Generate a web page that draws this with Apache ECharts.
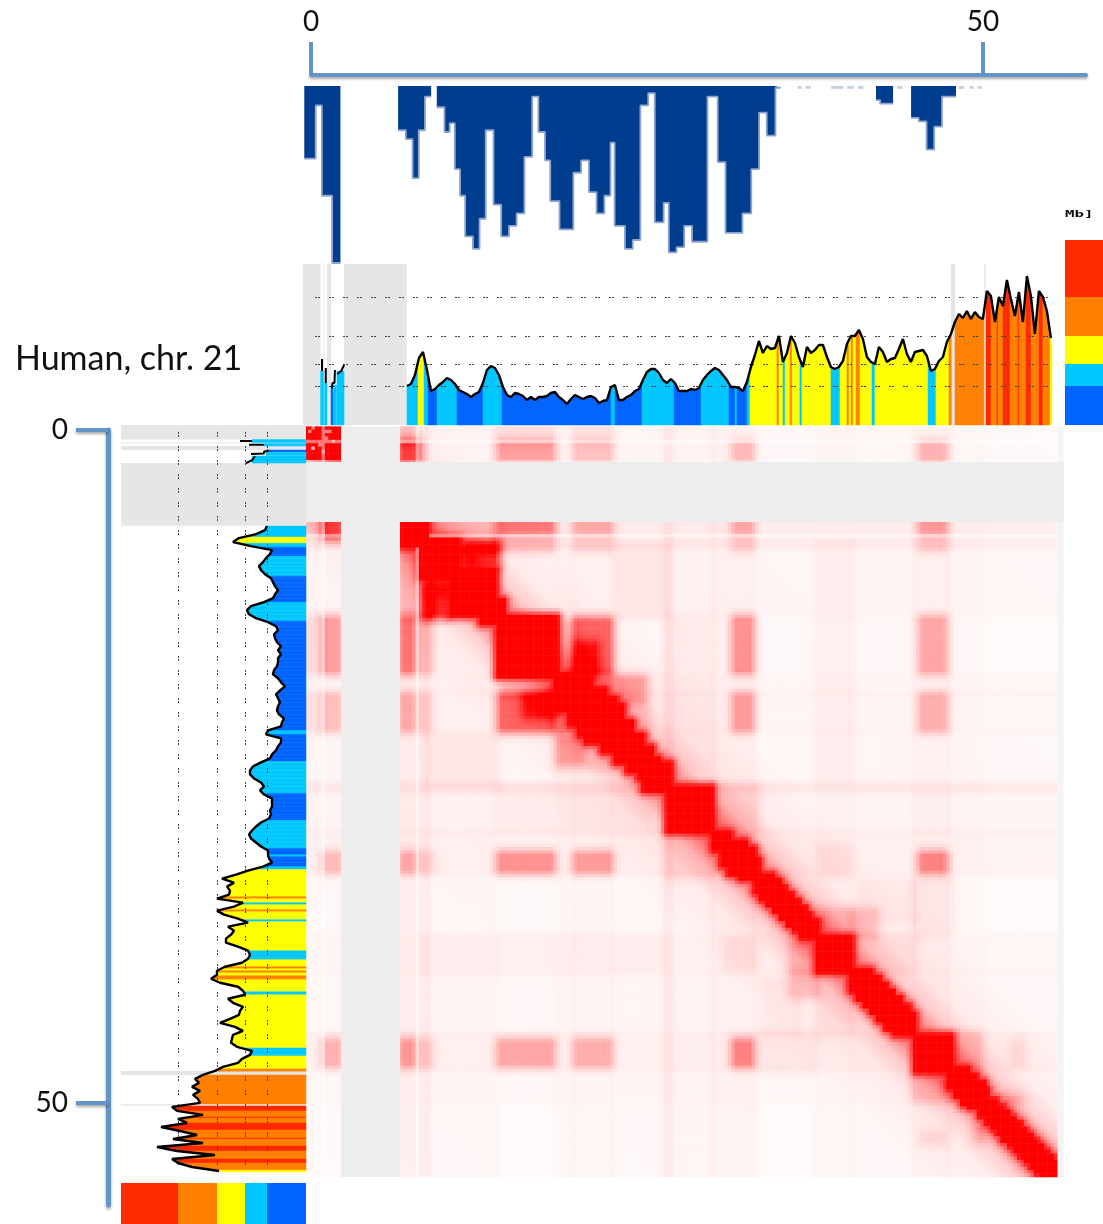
<!DOCTYPE html>
<html><head><meta charset="utf-8">
<style>html,body{margin:0;padding:0;background:#fff}#c{width:1103px;height:1224px}</style>
<script src="https://cdn.jsdelivr.net/npm/echarts@6/dist/echarts.min.js"></script>
</head><body><div id="c"></div>
<script>
// ---------- labels ----------
const chromosomeLabel = 'Human, chr. 21';
const unitLabel = 'Mb]';
const mbTicks = [0, 50];

// ---------- top blue track (start of each step in Mb, depth in %) ----------
const mappabilityStarts = [-0.5,0.35,0.81,1.57,2.19,6.48,7.06,7.56,8.02,8.48,8.94,9.36,9.93,10.32,10.7,11.09,11.47,12.05,12.54,13.0,13.58,14.15,14.73,15.3,15.88,16.46,16.92,17.41,17.8,18.49,19.52,20.1,20.68,21.25,21.83,22.29,22.59,23.36,23.94,24.51,25.09,25.58,26.24,26.62,27.2,27.77,28.35,29.5,30.26,30.84,32.1,32.76,33.34,33.91,34.56,34.94,42.04,42.35,43.31,44.65,45.22,45.8,46.37,46.95,47.99];
const mappabilityDepth  = [41,11,62,100,0,25,30,52,25,6,0,12,26,21,47,62,85,92,75,25,67,85,79,72,40,6,26,42,65,81,49,42,60,72,62,32,79,92,87,11,4,77,66,94,91,79,88,6,43,83,72,47,15,28,1,0,8,10,0,18,20,36,23,6,0];
const mappabilityFaintSpans = [[36.2,36.5],[36.8,37.2],[38.7,39.6],[39.9,40.4],[40.7,41.1],[43.6,44.0],[48.2,48.6],[49.0,49.3],[49.6,49.9]];

// ---------- profile shared by the top and left tracks ----------
const trackStartMb = 7.14;
const trackStepMb = 0.2976;
const trackValues = [
 39,41,50,67,73,55,34,36,40,43,47,45,41,35,33,31,28,31,33,42,55,59,57,50,38,30,28,32,31,29,25,28,25,28,28,29,32,33,28,25,21,26,30,28,26,28,29,27,22,24,25,38,40,25,
 25,28,30,34,36,45,53,56,56,52,45,42,46,42,34,34,34,36,35,37,45,50,54,57,55,50,45,38,38,37,34,43,58,70,84,72,79,76,77,89,63,72,89,82,68,58,78,72,75,80,80,68,58,56,58,
 64,81,89,89,95,86,68,63,61,78,73,63,66,67,76,86,71,63,73,74,75,69,54,56,64,68,83,91,103,111,107,114,106,113,108,106,134,129,103,128,119,145,126,109,133,103,149,129,91,134,128,114,87];
const compartmentEdges = [7.14,7.96,8.41,8.71,9.38,10.86,12.8,14.21,22.32,22.62,24.63,27.01,29.02,31.1,31.55,31.7,32.44,32.66,34.67,34.82,35.12,35.27,35.64,35.79,36.38,36.53,38.69,39.36,39.88,40.03,40.18,40.33,40.55,40.85,41.74,41.96,45.91,46.5,47.47,47.62,47.92,50.07,50.22,50.6,51.04,51.12,51.49,52.01,52.6,52.68,53.2,53.57,54.17,54.46,54.99,55.13];
const compartmentClass = [1,2,1,0,1,0,1,0,1,0,1,0,1,0,1,0,1,2,3,2,1,2,3,2,1,2,1,2,3,2,3,2,3,2,1,2,1,2,3,-1,3,-1,4,3,4,3,4,3,4,3,4,3,4,3,2];
const legendBreaks = [0,39,61,89,128,185];
const legendColors = ['#0064ff','#00c8ff','#ffff00','#ff8000','#ff2a00'];
const dashedLevels = [39,61,89,128];

// ---------- short pieces on the p arm ----------
const pArmSpans = [[0.71,0.93],[1.0,1.19],[1.49,1.66],[1.66,1.9],[1.93,2.46]];
const pArmHeights = [54,42,37,40,54];
const pArmClasses = [1,1,0,1,1];
const pArmLine = [[0.82,54],[0.82,66],null,[1.1,42],[1.1,57],null,[1.55,37],[1.6,42],[1.75,42],[1.78,55],null,[1.95,51],[2.25,54],[2.46,60]];

// ---------- grey unmapped regions ----------
const unmappedTrackSpan = [-1,7.12];
const clearedTrackSpans = [[0.71,0.93],[1.0,1.19],[1.49,2.46]];
const trackSeparators = [[47.62,47.92,'#e4e4e4'],[50.07,50.22,'#ececec']];
const matrixGreyColumn = [2.23,6.62];
const matrixGreyRow = [2.38,6.83];

// ---------- contact map, in Mb ----------
const diagonalDomains = [[6.62,8.71],[8.11,11.09],[10.34,13.84],[12.57,14.43],[13.84,18.38],
 [18.15,20.9],[19.2,22.0],[19.9,22.8],
 [20.4,23.3],[21.6,24.0],[22.6,24.8],[23.5,25.5],[24.3,26.0],[24.7,26.86],[26.49,29.91],
 [29.9,31.3],[30.5,32.5],[31.0,33.1],[31.8,33.4],
 [33.0,34.5],[33.4,35.0],[33.9,35.4],[34.4,35.9],[34.9,36.4],[35.4,36.9],[35.9,37.3],[36.4,37.8],
 [37.65,40.33],
 [40.1,41.8],[40.6,42.4],[41.1,42.9],[41.6,43.4],[42.1,44.0],[42.7,44.6],[43.3,45.0],
 [44.94,47.77],
 [47.4,49.0],[47.9,49.6],[48.4,50.2],[48.9,50.4],
 [49.7,51.1],[50.2,51.6],[50.6,52.0],[51.0,52.4],[51.4,52.9],[51.9,53.3],[52.3,53.7],[52.7,54.1],[53.1,54.5],[53.5,54.9],[53.9,55.3],[54.3,55.7]];
// [x from, x to, y from, y to, strength]; each block is mirrored across the diagonal
const contactBlocks = [
 [-0.35,0.9,-0.35,0.9,0.85],[1.0,2.2,-0.35,0.9,0.85],[1.0,2.2,1.0,2.2,1.0],
 [19.8,22.2,14.2,18,0.55],[19.8,21.2,16,18,0.3],[18.5,19.5,14.4,17.8,0.12],
 [6.8,7.9,1.1,2.1,0.65],[14.1,17.9,1.1,2.1,0.34],[19.8,22.2,1.1,2.1,0.2],[31.6,32.7,1.1,2.1,0.22],[45.5,47.1,1.1,2.1,0.25],
 [6.8,7.5,-0.3,0.8,0.18],[14.1,17.9,-0.3,0.8,0.1],[19.8,22.2,-0.3,0.8,0.07],
 [14.1,17.9,6.8,7.5,0.46],[19.8,22.2,6.8,7.5,0.26],[31.6,32.7,6.8,7.5,0.26],[45.5,47.1,6.8,7.5,0.32],[8.9,13.6,6.8,7.5,0.18],
 [14.1,17.9,8.3,8.8,0.2],[19.8,22.2,8.3,8.8,0.13],[31.6,32.7,8.3,8.8,0.13],[45.5,47.1,8.3,8.8,0.15],
 [31.6,32.7,14.1,17.9,0.38],[45.5,47.1,14.1,17.9,0.3],
 [31.6,32.7,19.8,22.2,0.33],[45.5,47.1,19.8,22.2,0.26],
 [45.5,47.1,31.6,32.7,0.42],
 [11.2,13.7,9,9.9,0.3],[8.5,10.2,11.8,13.8,0.35],[8.8,13.8,8.3,8.9,0.35],
 [21.1,22.3,18.6,19.7,0.3],[18.4,23.8,22.9,25,0.12],[23.1,24.6,18.6,20.1,0.2],
 [41,44.8,33.6,36.4,0.05],
 [45.5,47.1,52.3,52.9,0.08],[51.9,52.7,49.6,49.9,0.15],[45,47.5,48.2,49.7,0.15],
 [22.8,26.4,8.7,13.8,0.05],[26.6,29.7,14,25,0.035],[37.8,40.2,8.5,26,0.025],[38,40,31,33,0.06],[26.6,29.8,30.2,33.1,0.09],
 [35.8,37.6,38.2,40.1,0.15],[40.4,42,35.8,37.6,0.15],[41,44.8,37.8,40.2,0.06],[33.5,37.4,44.9,47.5,0.05]];
// [from, to, strength]: pale stripes that run through the map in both directions
const contactStripes = [[-0.45,2.23,0.012],[6.62,8.7,0.05],[8.7,13.8,0.018],[13.84,18.15,0.006],[18.3,19.6,0.018],[19.6,22.4,0.018],[22.4,26.5,0.012],[26.3,26.9,0.04],[26.5,29.9,0.02],[29.9,33,0.03],[33,37.6,0.004],[37.6,40.3,0.016],[40.3,44.9,0.01],[44.9,47.5,0.03],[47.5,50,0.012],[50,55.6,0.003]];
// [distance from the diagonal in Mb, intensity]
const distanceStops = [[0,0.6],[1.5,0.4],[3,0.17],[5,0.06],[10,0.018],[56,0.01]];
const quietRows = [[7.85,8.1],[0.85,1.02]];
const pArmPinholes = [[-0.07,0.22],[0.07,1.34],[1.26,0.22],[1.19,0.74],[1.64,0.89]];

// ---------- contact map assembly ----------
const cellMb = 0.25, matrixX0 = -0.45, matrixY0 = -0.25, nX = 224, nY = 223;
const falloff = (d, soft) => d <= 0 ? 1 : Math.pow(Math.max(0, 1 - d / soft), 2);
const box = (x, y, a0, a1, b0, b1, soft) =>
  falloff(Math.max(a0 - x, x - a1), soft) * falloff(Math.max(b0 - y, y - b1), soft);
const decay = d => {
  for (let i = 1; i < distanceStops.length; i++) {
    const [d0, v0] = distanceStops[i - 1], [d1, v1] = distanceStops[i];
    if (d <= d1) return v0 + (v1 - v0) * (d - d0) / (d1 - d0);
  }
  return 0;
};
const stripeAt = m => contactStripes.reduce((s, [a, b, k]) => s + k * falloff(Math.max(a - m, m - b), 0.5), 0);
function contact(x, y) {
  let v = decay(Math.abs(x - y)) + stripeAt(x) + stripeAt(y);
  for (const [a0, a1, b0, b1, s] of contactBlocks) {
    const soft = Math.max(a0, b0) < 2.3 && Math.max(a1, b1) < 2.3 ? 0.2 : 1.1;
    v += s * box(x, y, a0, a1, b0, b1, soft);
    if (a0 !== b0) v += s * box(y, x, a0, a1, b0, b1, soft);
  }
  let core = 0;
  for (const [a, b] of diagonalDomains) core = Math.max(core, box(x, y, a, b, a, b, 0.8));
  v = 1 - (1 - Math.min(v, 1)) * (1 - core);
  for (const [a, b] of quietRows) if (core < 0.9 && ((y >= a && y <= b) || (x >= a && x <= b))) v *= 0.55;
  for (const [a, b] of pArmPinholes) {
    if ((Math.abs(x - a) < 0.125 && Math.abs(y - b) < 0.125) || (Math.abs(x - b) < 0.125 && Math.abs(y - a) < 0.125)) v *= 0.5;
  }
  return v;
}
const xBins = Array.from({length: nX}, (_, i) => matrixX0 + cellMb * (i + 0.5));
const yBins = Array.from({length: nY}, (_, j) => matrixY0 + cellMb * (j + 0.5));
const heatData = [];
xBins.forEach((x, i) => yBins.forEach((y, j) => {
  if (x >= matrixGreyColumn[0] && x <= matrixGreyColumn[1]) return;
  if (y >= matrixGreyRow[0] && y <= matrixGreyRow[1]) return;
  heatData.push([i, j, +contact(x, y).toFixed(3)]);
}));

// ---------- track assembly ----------
const trackPoints = trackValues.map((v, i) => [trackStartMb + trackStepMb * i, v]);
const valueAt = m => {
  const f = (m - trackStartMb) / trackStepMb, i = Math.max(0, Math.min(trackValues.length - 2, Math.floor(f)));
  return trackValues[i] + (trackValues[i + 1] - trackValues[i]) * (f - i);
};
const fillPieces = [];
compartmentClass.forEach((c, k) => {
  if (c < 0) return;
  const a = compartmentEdges[k], b = compartmentEdges[k + 1];
  const cuts = [a, ...trackPoints.map(p => p[0]).filter(m => m > a && m < b), b];
  for (let i = 0; i < cuts.length - 1; i++) fillPieces.push([cuts[i], cuts[i + 1], valueAt(cuts[i]), valueAt(cuts[i + 1]), c]);
});
pArmSpans.forEach((s, i) => fillPieces.push([s[0], s[1], pArmHeights[i], pArmHeights[i], pArmClasses[i]]));

const fillRender = horizontal => (params, api) => {
  const a = api.value(0), b = api.value(1), va = api.value(2), vb = api.value(3), col = legendColors[api.value(4)];
  const pts = horizontal ? [[a,0],[b,0],[b,vb],[a,va]] : [[0,a],[0,b],[vb,b],[va,a]];
  return {type: 'polygon', shape: {points: pts.map(p => api.coord(p))}, style: {fill: col, stroke: col, lineWidth: 0.5}};
};
// generic rectangle series: [x0,x1,y0,y1,colourIndex] through the axes of a grid
const rectSeries = (items, colors, ax, z, clip = true) => ({
  type: 'custom', xAxisIndex: ax, yAxisIndex: ax, z, clip, silent: true, animation: false,
  data: items.map(r => ({value: r})),
  renderItem: (params, api) => {
    const p0 = api.coord([api.value(0), api.value(2)]), p1 = api.coord([api.value(1), api.value(3)]);
    return {type: 'rect', shape: {x: Math.min(p0[0], p1[0]), y: Math.min(p0[1], p1[1]), width: Math.abs(p1[0] - p0[0]), height: Math.abs(p1[1] - p0[1])},
      style: {fill: colors[api.value(4)]}};
  }
});

// top grey blocks and legend (x in Mb, y in value)
const TOPV = 161, LEFTV = 185;
const trackColors = ['#e6e6e6', '#ffffff', '#e4e4e4', '#ececec', ...legendColors];
const topRects = [[unmappedTrackSpan[0], unmappedTrackSpan[1], 0, TOPV, 0],
  ...clearedTrackSpans.map(s => [s[0], s[1], 0, TOPV, 1]),
  ...trackSeparators.map((s, i) => [s[0], s[1], 0, TOPV, 2 + i])];
const leftRects = topRects.map(r => [0, LEFTV, r[0], r[1], r[4]]);
const topLegend = legendColors.map((c, i) => [56.1, 60, legendBreaks[i], legendBreaks[i + 1], 4 + i]);
const leftLegend = legendColors.map((c, i) => [legendBreaks[i], legendBreaks[i + 1], 55.94, 60, 4 + i]);

// blue track as stepped line with breaks at zero
const mappabilityLine = [];
mappabilityStarts.forEach((x, i) => {
  if (mappabilityDepth[i] === 0) {
    mappabilityLine.push([x, mappabilityDepth[i - 1]], [x, null]);
  } else mappabilityLine.push([x, mappabilityDepth[i]]);
});

const AXIS = '#6395c8';
const axisShadow = {shadowBlur: 3, shadowColor: 'rgba(0,0,0,0.35)', shadowOffsetY: 2, shadowOffsetX: 0};
const hidden = {show: false, axisLine: {show: false}, axisTick: {show: false}, axisLabel: {show: false}, splitLine: {show: false}};
const labelFont = {fontFamily: 'Lato, "Open Sans", sans-serif', fontSize: 30, color: '#111'};
const dash = {type: [2, 1, 2, 9], color: '#444', width: 1};

const grids = [
  {left: 305, top: 426.6, width: 752.6, height: 750.4},
  {left: 305, top: 426.6, width: 752.6, height: 750.4},
  {left: 303, top: 86, width: 800, height: 177},
  {left: 303, top: 240, width: 800, height: 185},
  {left: 121, top: 425, width: 185, height: 799},
  {left: 311, top: 75, width: 775, height: 1},
  {left: 108, top: 430, width: 1, height: 775}
];
const xMin = -0.595, xMax = 58.93;
const option = {
  animation: false,
  backgroundColor: '#fff',
  grid: grids.map(g => ({...g, show: false, containLabel: false})),
  visualMap: {show: false, seriesIndex: 0, min: 0, max: 1, inRange: {color: ['#ffffff', '#ff0000']}},
  xAxis: [
    {type: 'category', gridIndex: 0, data: xBins, ...hidden},
    {type: 'value', gridIndex: 1, min: matrixX0, max: matrixX0 + cellMb * nX, ...hidden},
    {type: 'value', gridIndex: 2, min: xMin, max: xMax, ...hidden},
    {type: 'value', gridIndex: 3, min: xMin, max: xMax, ...hidden},
    {type: 'value', gridIndex: 4, min: 0, max: 185, inverse: true, ...hidden},
    {type: 'value', gridIndex: 5, min: 0, max: 57.66, position: 'top', show: true, splitLine: {show: false},
      axisLine: {show: true, onZero: false, lineStyle: {color: AXIS, width: 4, ...axisShadow}},
      axisTick: {show: true, customValues: mbTicks, length: 33, lineStyle: {color: AXIS, width: 4}},
      axisLabel: {show: true, customValues: mbTicks, margin: 39, ...labelFont, fontSize: 28, formatter: v => String(v)}},
    {type: 'value', gridIndex: 6, min: 0, max: 1, ...hidden}
  ],
  yAxis: [
    {type: 'category', gridIndex: 0, inverse: true, data: yBins, ...hidden},
    {type: 'value', gridIndex: 1, inverse: true, min: matrixY0, max: matrixY0 + cellMb * nY, ...hidden},
    {type: 'value', gridIndex: 2, inverse: true, min: 0, max: 100, ...hidden},
    {type: 'value', gridIndex: 3, min: 0, max: 185, ...hidden},
    {type: 'value', gridIndex: 4, inverse: true, min: -0.37, max: 58.99, ...hidden},
    {type: 'value', gridIndex: 5, min: 0, max: 1, ...hidden},
    {type: 'value', gridIndex: 6, inverse: true, min: 0, max: 57.58, position: 'left', show: true, splitLine: {show: false},
      axisLine: {show: true, onZero: false, lineStyle: {color: AXIS, width: 5, ...axisShadow}},
      axisTick: {show: true, customValues: mbTicks, length: 32, lineStyle: {color: AXIS, width: 4, ...axisShadow}},
      axisLabel: {show: true, customValues: mbTicks, margin: 40, ...labelFont, fontSize: 28, formatter: v => String(v), padding: [0, 0, 5, 0]}}
  ],
  series: [
    {type: 'heatmap', xAxisIndex: 0, yAxisIndex: 0, data: heatData, progressive: 0, silent: true, animation: false, z: 1},
    rectSeries([[55.55, 56, matrixY0, matrixY0 + cellMb * nY, 1],
                [matrixGreyColumn[0], matrixGreyColumn[1], matrixY0, matrixY0 + cellMb * nY, 0],
                [matrixX0, 56, matrixGreyRow[0], matrixGreyRow[1], 0]], ['#ededed', '#f4f4f4'], 1, 2, false),
    // top blue track
    {type: 'line', xAxisIndex: 2, yAxisIndex: 2, data: mappabilityLine, step: 'end', symbol: 'none', silent: true, animation: false, z: 3,
      lineStyle: {color: '#8ea4cb', width: 1.8}, areaStyle: {color: '#003d8f', opacity: 1}},
    rectSeries(mappabilityFaintSpans.map(s => [s[0], s[1], 0, 1.6, 0]), ['#c5d0e4'], 2, 3),
    // top compartment track
    rectSeries(topRects, trackColors, 3, 3),
    rectSeries(topLegend, trackColors, 3, 3),
    {type: 'custom', xAxisIndex: 3, yAxisIndex: 3, z: 4, silent: true, animation: false, data: fillPieces.map(p => ({value: p})), renderItem: fillRender(true)},
    {type: 'line', xAxisIndex: 3, yAxisIndex: 3, z: 5, symbol: 'none', silent: true, animation: false, data: trackPoints, lineStyle: {color: '#000', width: 2.4},
      markLine: {silent: true, symbol: 'none', animation: false, label: {show: false}, lineStyle: dash,
        data: dashedLevels.map(v => [{coord: [0.3, v]}, {coord: [55.06, v]}])}},
    {type: 'line', xAxisIndex: 3, yAxisIndex: 3, z: 5, symbol: 'none', silent: true, animation: false, data: pArmLine.map(p => p || ['-', '-']), lineStyle: {color: '#000', width: 2}},
    // left compartment track
    rectSeries(leftRects, trackColors, 4, 3),
    rectSeries(leftLegend, trackColors, 4, 3),
    {type: 'custom', xAxisIndex: 4, yAxisIndex: 4, z: 4, silent: true, animation: false, data: fillPieces.map(p => ({value: p})), renderItem: fillRender(false)},
    {type: 'line', xAxisIndex: 4, yAxisIndex: 4, z: 5, symbol: 'none', silent: true, animation: false, data: trackPoints.map(p => [p[1], p[0]]), lineStyle: {color: '#000', width: 2.4},
      markLine: {silent: true, symbol: 'none', animation: false, label: {show: false}, lineStyle: dash,
        data: dashedLevels.map(v => [{coord: [v, 0.15]}, {coord: [v, 55]}])}},
    {type: 'line', xAxisIndex: 4, yAxisIndex: 4, z: 5, symbol: 'none', silent: true, animation: false, data: pArmLine.map(p => p ? [p[1], p[0]] : ['-', '-']), lineStyle: {color: '#000', width: 2}}
  ],
  graphic: [
    {type: 'text', left: 15, top: 342, silent: true, style: {text: chromosomeLabel, fontFamily: 'Lato, "Open Sans", sans-serif', fontSize: 34, fill: '#111'}},
    {type: 'text', x: 1065, y: 210, scaleX: 1.75, silent: true, style: {text: unitLabel, fontFamily: '"DejaVu Sans Mono", monospace', fontWeight: 'bold', fontSize: 9, fill: '#111'}}
  ]
};
const chart = echarts.init(document.getElementById('c'), null, {renderer: 'canvas'});
chart.setOption(option);
</script></body></html>
